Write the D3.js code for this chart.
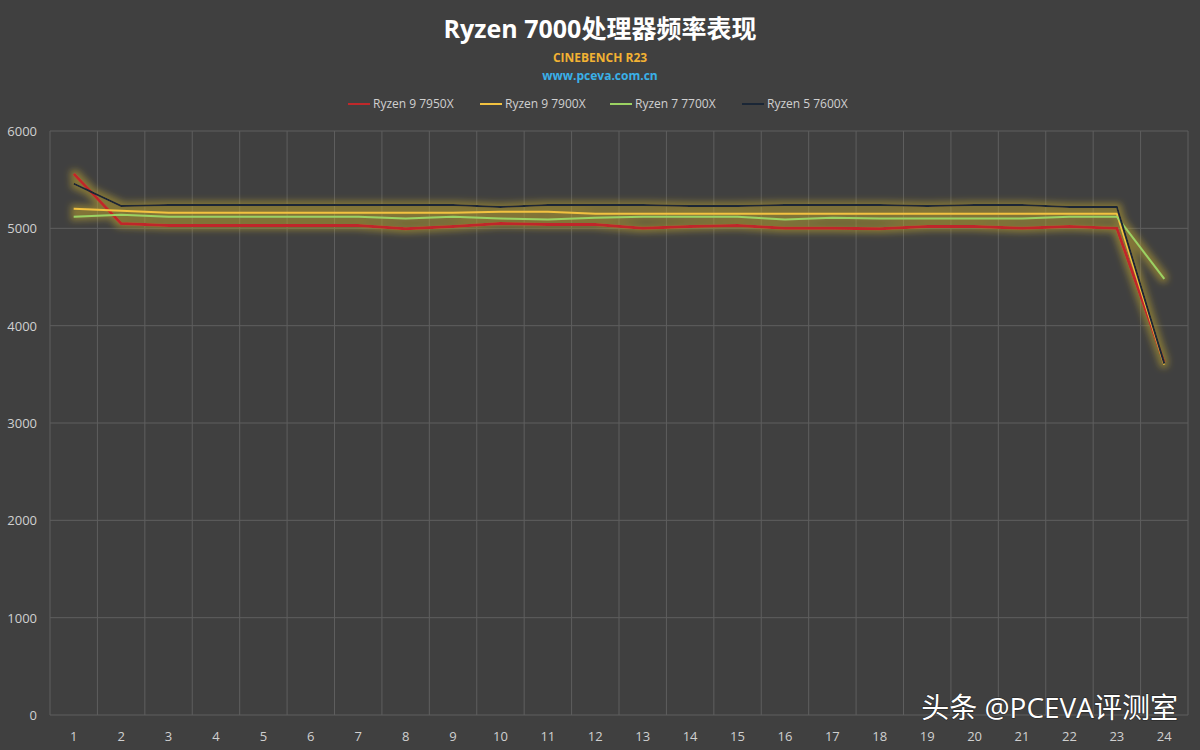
<!DOCTYPE html><html><head><meta charset="utf-8"><script src="https://cdn.jsdelivr.net/npm/d3@7"></script>
<style>body{margin:0;background:#404040}text{font-family:"Open Sans","Noto Sans CJK SC",sans-serif}</style></head><body><svg id="c" width="1200" height="750"></svg><script>
const categories=d3.range(1,25).map(String);
const names=["Ryzen 9 7950X","Ryzen 9 7900X","Ryzen 7 7700X","Ryzen 5 7600X"];
const colors=["#c0282a","#f2c240","#9bd262","#1a2636"];
const r7950=[5560,5050,5030,5030,5030,5030,5030,4995,5020,5050,5040,5040,5000,5020,5030,5000,5000,4995,5020,5020,5000,5020,5000,3620];
const r7900=[5200,5180,5160,5160,5160,5160,5160,5160,5160,5170,5170,5150,5150,5150,5150,5150,5150,5150,5150,5150,5150,5150,5150,3600];
const r7700=[5120,5140,5120,5120,5120,5120,5120,5100,5120,5100,5090,5110,5120,5120,5120,5090,5110,5100,5100,5100,5100,5120,5120,4480];
const r7600=[5460,5230,5240,5240,5240,5240,5240,5240,5240,5220,5240,5240,5240,5230,5230,5240,5240,5240,5230,5240,5240,5220,5220,3610];
const series=[r7950,r7900,r7700,r7600];
const yTicks=[0,1000,2000,3000,4000,5000,6000];
const svg=d3.select("#c");
svg.append("rect").attr("width",1200).attr("height",750).attr("fill","#404040");
const defs=svg.append("defs");
const f=defs.append("filter").attr("id","glow").attr("x","-10%").attr("y","-50%").attr("width","120%").attr("height","200%");
f.append("feMorphology").attr("in","SourceAlpha").attr("operator","dilate").attr("radius",3).attr("result","d");
f.append("feGaussianBlur").attr("in","d").attr("stdDeviation",3).attr("result","b");
f.append("feFlood").attr("flood-color","#b8a030").attr("flood-opacity",0.55);
f.append("feComposite").attr("in2","b").attr("operator","in").attr("result","g");
const m=f.append("feMerge");m.append("feMergeNode").attr("in","g");m.append("feMergeNode").attr("in","SourceGraphic");
const x=d3.scaleBand().domain(categories).range([50,1188]);
const y=d3.scaleLinear().domain([0,6000]).range([715,131]);
const g=svg.append("g");
g.selectAll(".h").data(yTicks).join("line").attr("x1",50).attr("x2",1188).attr("y1",d=>y(d)).attr("y2",d=>y(d)).attr("stroke","#5e5e5e");
g.selectAll(".v").data(d3.range(25)).join("line").attr("x1",d=>50+d*x.bandwidth()).attr("x2",d=>50+d*x.bandwidth()).attr("y1",131).attr("y2",715).attr("stroke","#5e5e5e");
g.selectAll(".yl").data(yTicks).join("text").attr("x",37).attr("y",d=>y(d)+5).attr("text-anchor","end").attr("fill","#d0d0d0").attr("font-size",13).text(d=>d);
g.selectAll(".xl").data(categories).join("text").attr("x",d=>x(d)+x.bandwidth()/2).attr("y",741).attr("text-anchor","middle").attr("fill","#d0d0d0").attr("font-size",13).text(d=>d);
const line=d3.line().x((d,i)=>x(categories[i])+x.bandwidth()/2).y(d=>y(d));
const lg=svg.append("g").attr("filter","url(#glow)");
series.forEach((s,i)=>lg.append("path").attr("d",line(s)).attr("fill","none").attr("stroke",colors[i]).attr("stroke-width",i==0?3:2));
svg.append("text").attr("x",600).attr("y",38).attr("text-anchor","middle").attr("fill","#fff").attr("font-size",25).attr("font-weight","bold").text("Ryzen 7000处理器频率表现");
svg.append("text").attr("x",600).attr("y",62).attr("text-anchor","middle").attr("fill","#f2b233").attr("font-size",12).attr("font-weight","bold").text("CINEBENCH R23");
svg.append("text").attr("x",600).attr("y",80).attr("text-anchor","middle").attr("fill","#3ab0e8").attr("font-size",12).attr("font-weight","bold").text("www.pceva.com.cn");
const lx=[348,480,610,742];
names.forEach((n,i)=>{svg.append("line").attr("x1",lx[i]).attr("x2",lx[i]+22).attr("y1",104).attr("y2",104).attr("stroke",colors[i]).attr("stroke-width",2);
svg.append("text").attr("x",lx[i]+25).attr("y",108).attr("fill","#d0d0d0").attr("font-size",12).text(n);});
svg.append("text").attr("x",1178).attr("y",718).attr("text-anchor","end").attr("fill","#fff").attr("font-size",28).style("paint-order","stroke").attr("stroke","#222").attr("stroke-width",1).text("头条 @PCEVA评测室");
</script></body></html>
